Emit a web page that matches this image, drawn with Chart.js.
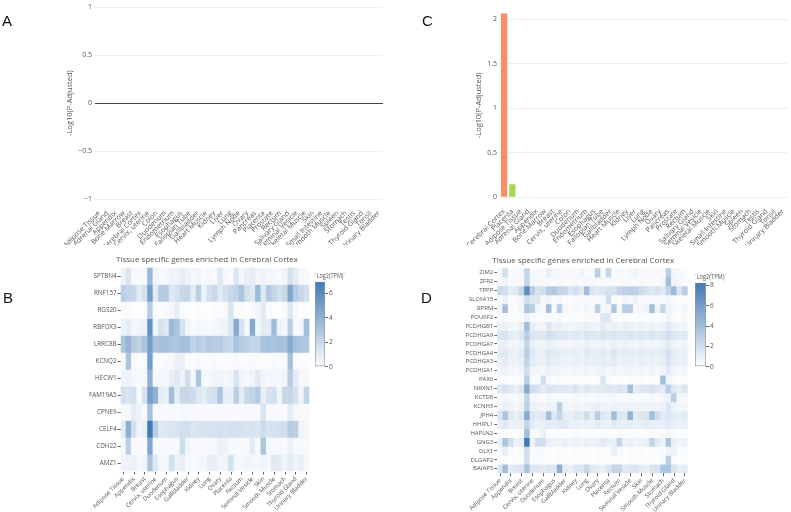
<!DOCTYPE html>
<html>
<head>
<meta charset="utf-8">
<script src="https://cdn.jsdelivr.net/npm/chart.js@4.4.0/dist/chart.umd.min.js"></script>
<style>
  body { margin: 0; background: #fff; }
  #fig { position: relative; width: 791px; height: 512px; overflow: hidden; }
  canvas { position: absolute; }
  .letra { position: absolute; font-family: 'Liberation Sans', Arial, sans-serif; font-size: 15px; line-height: 15px; color: #111; }
</style>
</head>
<body>
<div id="fig">
  <canvas id="graficoA" width="395" height="245" style="left:0;top:0"></canvas>
  <canvas id="graficoC" width="396" height="245" style="left:395px;top:0"></canvas>
  <canvas id="heatB" width="315" height="267" style="left:0;top:245px"></canvas>
  <canvas id="heatD" width="298" height="267" style="left:395px;top:245px"></canvas>
  <canvas id="barraB" width="60" height="105" style="left:305px;top:268px"></canvas>
  <canvas id="barraD" width="75" height="105" style="left:685px;top:268px"></canvas>
  <div class="letra" style="left:2px;top:13px">A</div>
  <div class="letra" style="left:422px;top:13px">C</div>
  <div class="letra" style="left:3px;top:290px">B</div>
  <div class="letra" style="left:421px;top:290px">D</div>
</div>
<script>
// tecidos em ordem alfabetica (painel A e heatmaps)
const tecidos = ['Adipose Tissue', 'Adrenal Gland', 'Appendix', 'Bone Marrow', 'Breast', 'Cerebral Cortex',
  'Cervix, uterine', 'Colon', 'Duodenum', 'Endometrium', 'Esophagus', 'Fallopian Tube', 'Gallbladder',
  'Heart Muscle', 'Kidney', 'Liver', 'Lung', 'Lymph Node', 'Ovary', 'Pancreas', 'Placenta', 'Prostate',
  'Rectum', 'Salivary Gland', 'Seminal Vesicle', 'Skeletal Muscle', 'Skin', 'Small Intestine',
  'Smooth Muscle', 'Spleen', 'Stomach', 'Testis', 'Thyroid Gland', 'Tonsil', 'Urinary Bladder'];

// painel C: ordenado por significancia
const tecidosC = ['Cerebral Cortex', 'Placenta', 'Adipose Tissue', 'Adrenal Gland', 'Appendix', 'Bone Marrow',
  'Breast', 'Cervix, uterine', 'Colon', 'Duodenum', 'Endometrium', 'Esophagus', 'Fallopian Tube',
  'Gallbladder', 'Heart Muscle', 'Kidney', 'Liver', 'Lung', 'Lymph Node', 'Ovary', 'Pancreas', 'Prostate',
  'Rectum', 'Salivary Gland', 'Seminal Vesicle', 'Skeletal Muscle', 'Skin', 'Small Intestine',
  'Smooth Muscle', 'Spleen', 'Stomach', 'Testis', 'Thyroid Gland', 'Tonsil', 'Urinary Bladder'];

const pAdjA = [0, 0, 0, 0, 0, 0, 0, 0, 0, 0, 0, 0, 0, 0, 0, 0, 0, 0, 0, 0, 0, 0, 0, 0, 0, 0, 0, 0, 0, 0, 0, 0, 0, 0, 0];
const pAdjC = [2.064, 0.145, 0, 0, 0, 0, 0, 0, 0, 0, 0, 0, 0, 0, 0, 0, 0, 0, 0, 0, 0, 0, 0, 0, 0, 0, 0, 0, 0, 0, 0, 0, 0, 0, 0];
const ticksA = [-1, -0.5, 0, 0.5, 1];
const ticksC = [0, 0.5, 1, 1.5, 2];

// heatmap B (linhas de cima para baixo)
const genesB = ['SPTBN4', 'RNF157', 'RGS20', 'RBFOX3', 'LRRC8B', 'KCNQ2', 'HECW1', 'FAM19A5', 'CPNE9', 'CELF4', 'CDH22', 'AMZ1'];
const tpmB = [
  [0.6,1.3,0.3,0.3,0.4,3.6,0.5,0.3,0.4,0.6,0.5,0.9,0.6,0.4,0.5,0.3,0.4,0.3,1.2,0.4,0.3,1.3,0.4,0.8,0.9,0.5,0.6,0.4,0.4,0.3,0.5,1.6,0.9,0.4,0.3],
  [2.5,2.2,2.0,1.0,1.6,5.0,1.1,2.6,2.6,1.2,1.5,2.0,2.1,1.0,2.5,0.7,1.6,2.0,1.1,1.6,2.0,2.2,3.0,1.6,1.2,3.6,1.2,2.7,2.1,1.6,2.0,4.6,2.6,2.0,1.6],
  [0.2,0.2,0.1,0.1,0.2,2.6,0.2,0.1,0.3,0.4,0.8,0.2,0.1,0.1,0.2,0.1,0.1,0.2,0.2,0.3,1.4,0.2,0.2,0.1,0.3,0.5,1.0,0.2,0.1,0.1,0.3,1.2,0.3,0.1,0.1],
  [0.6,0.9,0.4,0.5,0.6,5.6,0.5,1.5,1.2,3.6,3.1,1.6,0.5,0.3,0.4,0.3,0.3,0.4,0.5,0.6,1.3,4.4,1.5,0.4,4.4,0.5,1.0,0.9,3.5,0.6,0.4,2.5,0.3,0.4,3.4],
  [3.0,3.8,2.8,2.3,3.0,5.0,3.0,3.2,3.2,3.0,3.0,3.3,3.2,2.2,2.6,2.4,2.8,2.6,2.6,2.2,2.0,3.0,2.6,2.5,2.1,2.2,3.1,3.2,3.0,3.2,3.1,4.3,3.2,3.0,2.8],
  [0.3,3.0,0.3,0.2,0.3,5.0,0.2,0.2,0.3,0.3,0.7,0.7,0.2,0.2,0.3,0.2,0.2,0.3,0.2,0.2,0.2,0.3,0.2,0.2,0.3,0.2,0.2,0.2,0.3,0.2,0.3,3.2,0.3,0.2,0.2],
  [0.5,0.6,0.4,0.3,0.4,4.0,0.4,0.4,0.4,0.9,1.1,0.6,1.7,0.4,3.0,0.4,0.4,0.5,0.5,0.4,0.5,1.4,0.5,0.4,0.5,1.1,0.5,0.4,0.4,0.4,0.5,2.6,1.0,0.4,0.4],
  [1.6,1.4,1.6,0.3,1.5,5.0,4.0,1.0,0.8,3.4,1.0,2.0,2.0,1.8,1.2,1.0,1.5,1.6,3.0,0.8,0.8,2.5,1.0,2.0,2.2,2.6,0.8,1.5,1.6,0.5,2.0,2.1,1.5,0.5,2.2],
  [0.3,0.4,0.9,0.6,0.3,3.2,0.3,0.3,0.3,0.3,0.3,0.4,0.3,0.3,0.3,0.3,0.3,0.3,0.3,0.3,0.3,0.3,0.3,0.3,0.3,0.3,1.4,0.3,0.3,0.3,0.3,1.0,0.4,0.3,0.3],
  [1.0,4.0,1.6,0.5,0.8,6.9,2.5,1.2,1.3,1.3,1.4,1.6,1.7,1.3,1.4,1.4,1.5,1.5,1.6,1.5,1.6,1.6,1.5,1.4,1.5,1.3,1.8,1.4,1.5,1.6,1.7,2.6,2.5,0.5,0.4],
  [0.3,2.4,0.3,0.3,0.3,4.5,0.3,0.3,0.3,0.3,0.3,1.8,0.5,0.3,0.3,0.3,0.3,0.3,0.7,0.6,0.3,0.3,0.3,0.3,1.0,0.3,3.0,0.4,0.3,0.3,0.3,0.7,0.3,0.3,0.3],
  [0.5,0.6,0.7,0.4,0.5,3.0,1.2,0.4,0.4,1.6,0.7,0.8,0.4,0.3,0.4,0.4,0.8,0.8,0.5,0.5,1.6,0.4,0.4,0.5,0.4,0.4,0.5,0.4,1.1,1.0,0.5,1.0,0.6,0.8,0.4]
];
const maxB = 6.94;
const ticksBarraB = [0, 2, 4, 6];

// heatmap D
const genesD = ['ZIM2', 'ZFR2', 'TPPP', 'SLC6A15', 'RPRM', 'POU6F2', 'PCDHGB1', 'PCDHGA9', 'PCDHGA7', 'PCDHGA4',
  'PCDHGA3', 'PCDHGA1', 'PAX6', 'NRXN1', 'KCTD8', 'KCNH3', 'JPH4', 'HHIPL1', 'HAPLN2', 'GNG3', 'DLX1', 'DLGAP2', 'BAIAP3'];
const tpmD = [
  [0.4,2.0,0.3,0.3,0.5,2.6,0.4,0.4,0.3,1.0,0.5,0.4,0.3,0.4,0.3,0.6,0.3,0.4,3.0,0.3,2.6,0.3,0.4,0.3,0.5,0.7,0.3,0.4,0.3,0.4,0.3,3.0,0.6,0.4,0.3],
  [0.5,0.8,0.4,0.4,0.4,2.6,0.5,0.4,0.4,0.4,0.3,0.4,0.3,0.3,0.4,0.3,0.5,0.4,0.3,0.4,0.3,0.4,0.3,0.4,0.4,0.3,0.4,0.3,0.4,0.3,0.5,4.0,0.6,0.5,0.3],
  [2.2,2.0,1.2,1.3,2.6,7.0,3.0,1.8,2.0,3.2,3.4,2.5,2.4,1.5,2.0,1.4,4.0,1.6,1.3,1.5,1.8,1.8,2.6,2.8,3.0,2.7,2.2,1.8,1.5,1.8,1.4,2.6,4.2,1.5,3.0],
  [0.3,0.8,0.2,0.3,0.6,2.0,1.5,1.4,0.4,0.6,0.3,0.5,0.3,0.2,0.3,0.3,0.4,0.3,0.3,0.5,2.0,0.3,0.3,0.5,0.4,0.8,0.3,0.3,0.4,0.3,0.3,0.6,0.3,0.2,0.3],
  [0.5,4.0,0.3,0.3,0.6,3.6,3.0,0.6,0.4,4.0,0.4,3.0,0.4,0.3,0.5,0.3,0.6,0.4,3.0,0.4,0.5,3.5,0.4,3.0,3.0,0.4,0.5,0.6,4.0,0.6,2.6,0.7,0.5,0.3,0.6],
  [0.2,0.3,0.2,0.2,0.3,0.8,0.3,0.2,0.3,0.4,0.3,0.4,0.2,0.3,0.2,0.2,0.3,0.3,0.3,1.5,1.5,0.3,0.2,0.3,0.3,0.2,0.3,0.2,0.3,0.2,0.3,0.6,0.3,0.2,0.3],
  [0.8,1.0,0.6,0.5,0.9,4.0,1.0,0.7,0.6,1.5,0.8,0.9,0.7,0.6,0.7,0.8,1.0,0.8,0.7,1.2,0.8,0.9,0.7,1.0,0.8,0.7,0.9,0.6,0.8,0.7,0.8,1.4,0.8,0.6,0.7],
  [1.6,1.8,1.2,1.0,1.5,3.0,1.6,1.4,1.5,2.0,1.8,1.5,1.4,1.2,1.5,1.2,1.6,1.4,1.3,1.6,1.4,1.6,1.5,1.4,1.6,1.3,1.5,1.4,1.6,1.3,1.5,2.0,1.5,1.2,1.4],
  [0.8,1.0,0.6,0.5,0.8,2.6,0.9,0.7,0.6,1.0,0.8,0.7,0.6,0.5,0.7,0.6,0.9,0.6,0.7,0.8,0.6,0.9,0.6,0.8,0.7,0.6,0.8,0.6,0.7,0.6,0.8,1.2,0.7,0.5,0.6],
  [1.2,1.4,0.9,0.8,1.2,3.0,1.4,1.0,1.0,1.5,1.2,1.1,1.0,0.9,1.1,0.9,1.3,1.0,1.1,1.3,1.0,1.6,1.0,1.2,1.1,1.0,1.2,1.0,1.1,1.0,1.2,1.8,1.1,0.9,1.0],
  [1.0,1.2,0.8,0.7,1.0,2.6,1.2,0.9,0.8,1.3,1.0,0.9,0.8,0.8,0.9,0.8,1.1,0.9,0.9,1.1,0.9,1.2,0.8,1.0,0.9,0.8,1.0,0.8,0.9,0.8,1.0,1.6,1.0,0.8,0.9],
  [0.6,0.7,0.5,0.4,0.6,2.0,0.7,0.5,0.5,0.8,0.6,0.6,0.5,0.4,0.6,0.5,0.7,0.5,0.6,0.7,0.5,0.7,0.5,0.6,0.6,0.5,0.6,0.5,0.6,0.5,0.6,1.2,0.6,0.4,0.5],
  [0.2,0.4,0.2,0.2,0.3,3.0,0.3,0.3,2.0,0.3,0.2,0.3,0.2,0.3,0.2,0.2,0.3,0.2,0.3,1.5,0.3,0.2,0.3,0.2,0.3,0.2,0.3,0.2,0.3,0.2,4.0,0.6,0.3,0.2,0.2],
  [1.4,1.8,1.3,1.0,1.5,5.2,2.0,1.8,1.2,1.6,1.5,1.3,1.4,1.2,1.6,1.0,1.4,1.1,1.3,1.2,1.5,1.3,1.6,1.4,4.0,1.2,1.4,1.5,1.8,1.4,1.2,3.0,1.5,1.0,1.5],
  [0.4,0.5,0.3,0.3,0.5,2.6,0.4,0.4,0.3,0.5,0.3,0.4,0.3,0.3,0.4,0.3,0.4,0.3,0.4,0.3,0.4,0.5,0.3,0.4,0.4,0.3,0.4,0.3,0.4,0.3,0.5,0.8,3.0,0.5,0.4],
  [0.6,1.0,0.7,0.5,0.8,3.0,0.8,0.7,0.6,0.8,0.7,3.0,0.7,0.5,0.7,0.5,0.6,0.8,1.0,0.7,0.6,0.8,0.6,0.7,0.8,0.6,0.7,0.6,0.7,0.6,0.8,1.5,0.8,0.5,0.6],
  [1.5,3.6,1.4,1.0,1.5,5.2,1.6,1.2,1.4,4.0,1.4,2.6,1.2,1.0,1.4,1.2,2.0,1.2,3.0,1.4,1.2,4.0,1.5,1.3,4.6,1.2,1.4,1.6,4.0,2.0,1.2,1.5,1.2,1.0,1.3],
  [1.0,1.4,0.8,0.8,1.0,2.6,1.2,0.9,1.0,1.2,1.1,1.3,1.4,0.9,1.0,0.8,1.0,0.9,1.2,1.0,0.8,1.3,1.0,0.9,1.1,0.9,1.0,1.2,1.0,0.9,1.0,1.2,0.9,0.8,0.9],
  [0.2,0.3,0.2,0.2,0.3,4.0,0.3,0.3,1.0,0.3,0.2,0.3,0.2,0.2,0.3,0.2,0.2,0.3,0.2,0.2,0.3,0.2,0.3,0.2,0.2,0.3,0.2,0.2,0.3,0.2,0.3,0.5,0.3,0.2,0.2],
  [0.8,3.6,2.0,0.8,1.0,8.2,0.8,2.0,2.0,0.9,0.8,0.7,1.0,0.7,0.8,0.6,0.9,0.7,0.9,1.2,0.9,1.0,2.6,0.8,1.0,0.7,0.8,1.0,2.6,1.2,0.8,3.6,1.0,0.7,0.8],
  [0.3,1.0,0.3,0.2,0.3,2.0,0.3,0.3,0.3,0.3,0.2,0.3,0.2,0.2,0.3,0.2,0.3,0.2,0.3,0.2,0.3,1.0,0.3,0.2,0.3,0.2,0.3,0.2,0.3,0.2,0.3,0.6,0.8,0.2,0.2],
  [0.2,0.3,0.2,0.2,0.2,2.0,0.3,0.2,0.2,0.2,0.2,0.3,0.2,0.2,0.2,0.2,0.2,0.2,0.3,0.2,0.2,0.2,0.2,0.2,0.3,0.2,0.2,0.2,0.2,0.2,0.3,3.0,0.3,0.2,0.2],
  [1.5,4.0,1.2,1.4,1.6,3.6,1.5,1.4,1.2,1.5,1.4,5.0,1.2,1.0,1.4,1.5,2.5,1.4,1.2,1.0,1.5,2.5,2.6,1.2,1.5,1.6,1.2,1.0,1.5,1.8,3.5,3.6,1.6,1.0,1.2]
];
const maxD = 8.28;
const ticksBarraD = [0, 2, 4, 6, 8];

Chart.defaults.font.family = "'Open Sans', sans-serif";
Chart.defaults.color = '#444';
Chart.defaults.animation = false;
Chart.defaults.plugins.legend.display = false;
Chart.defaults.plugins.tooltip.enabled = false;

const AZUL = [63, 120, 180];

function corTpm(v, max) {
  const t = Math.max(0, Math.min(1, v / max));
  const r = Math.round(255 + (AZUL[0] - 255) * t);
  const g = Math.round(255 + (AZUL[1] - 255) * t);
  const b = Math.round(255 + (AZUL[2] - 255) * t);
  return `rgb(${r},${g},${b})`;
}

function menos(v) {
  return v < 0 ? '\u2212' + Math.abs(v) : String(v);
}

// grafico de barras de -log10(p)
function graficoBarras(id, labels, valores, cores, yMin, yMax, yTicks, opt) {
  return new Chart(document.getElementById(id), {
    type: 'bar',
    data: {
      labels: labels,
      datasets: [{ data: valores, backgroundColor: cores, categoryPercentage: 0.8, barPercentage: 0.95 }]
    },
    options: {
      responsive: false,
      layout: { padding: opt.padding },
      scales: {
        x: {
          grid: { display: false },
          border: { display: false },
          ticks: { autoSkip: false, minRotation: 45, maxRotation: 45, padding: 2, font: { size: 7 }, color: '#555' },
          afterFit: (s) => { s.height = opt.alturaX; }
        },
        y: {
          min: yMin, max: yMax,
          afterBuildTicks: (s) => { s.ticks = yTicks.map(v => ({ value: v })); },
          grid: { color: opt.corGrade, drawTicks: false, lineWidth: 1 },
          border: { display: false },
          ticks: { padding: 3, font: { size: 7 }, color: '#555', callback: (v) => menos(v) },
          title: { display: true, text: '-Log10(P-Adjusted)', color: '#555', font: { size: 7.5 }, padding: { top: opt.tituloY, bottom: 0 } },
          afterFit: (s) => { s.width = opt.larguraY; }
        }
      }
    }
  });
}

graficoBarras('graficoA', tecidos, pAdjA, '#fc8d62', -1, 1, ticksA, {
  padding: { top: 4, right: 12, left: 0, bottom: 0 },
  alturaX: 46, larguraY: 95, tituloY: 65.5,
  corGrade: (c) => (c.tick && c.tick.value === 0) ? '#444' : '#eee'
});

graficoBarras('graficoC', tecidosC, pAdjC,
  tecidosC.map((t, i) => i === 0 ? '#fc8d62' : (i === 1 ? '#a6d854' : '#66c2a5')),
  0, 2.064, ticksC, {
  padding: { top: 13.3, right: 3, left: 0, bottom: 0 },
  alturaX: 47.7, larguraY: 105, tituloY: 79.5,
  corGrade: '#eee'
});

// titulo do heatmap desenhado numa posicao fixa
const tituloHeatmap = {
  id: 'tituloHeatmap',
  afterDraw(chart, args, o) {
    const c = chart.ctx;
    c.save();
    c.font = "8px 'Open Sans', sans-serif";
    c.fillStyle = '#555';
    c.textAlign = 'center';
    c.textBaseline = 'middle';
    c.fillText(o.text, o.x, o.y);
    c.restore();
  }
};

function heatmap(id, genes, tpm, max, opt) {
  const datasets = genes.map((g, i) => ({
    label: g,
    data: tecidos.map(() => 1),
    backgroundColor: tpm[i].map(v => corTpm(v, max)),
    borderWidth: 0,
    categoryPercentage: 1,
    barPercentage: 1,
    stack: 'hm'
  }));
  return new Chart(document.getElementById(id), {
    type: 'bar',
    data: { labels: tecidos, datasets: datasets },
    plugins: [tituloHeatmap],
    options: {
      responsive: false,
      layout: { padding: opt.padding },
      plugins: {
        tituloHeatmap: { text: 'Tissue specific genes enriched in Cerebral Cortex', x: opt.tituloX, y: opt.tituloY }
      },
      scales: {
        x: {
          stacked: true,
          grid: { display: true, drawOnChartArea: false, drawTicks: true, tickLength: 3, offset: false, color: '#666' },
          border: { display: false },
          ticks: {
            autoSkip: false, minRotation: 45, maxRotation: 45, padding: 1, font: { size: 6 }, color: '#555',
            callback: (v, i) => (i % 2 === 0 ? tecidos[i] : null)
          },
          afterFit: (s) => { s.height = opt.alturaX; }
        },
        y: {
          stacked: true,
          reverse: true,
          min: 0, max: genes.length,
          afterBuildTicks: (s) => { s.ticks = genes.map((g, i) => ({ value: i + 0.5 })); },
          grid: { display: true, drawOnChartArea: false, drawTicks: true, tickLength: 3, color: '#666' },
          border: { display: false },
          ticks: { autoSkip: false, padding: 1, font: { size: opt.fonteY }, color: '#555', callback: (v) => genes[Math.floor(v)] },
          afterFit: (s) => { s.width = opt.larguraY; }
        }
      }
    }
  });
}

heatmap('heatB', genesB, tpmB, maxB, {
  padding: { top: 22.5, right: 5.6, left: 0, bottom: 0 },
  alturaX: 40.5, larguraY: 120.6, fonteY: 6.3, tituloX: 207, tituloY: 15
});
heatmap('heatD', genesD, tpmD, maxD, {
  padding: { top: 23.2, right: 5.3, left: 0, bottom: 0 },
  alturaX: 38.8, larguraY: 102.3, fonteY: 6, tituloX: 188.3, tituloY: 16
});

// barra de cores como uma barra flutuante com gradiente
function barraCores(id, max, ticks, opt) {
  return new Chart(document.getElementById(id), {
    type: 'bar',
    data: {
      labels: [''],
      datasets: [{
        data: [[0, max]],
        backgroundColor: (ctx) => {
          const area = ctx.chart.chartArea;
          if (!area) return null;
          const grad = ctx.chart.ctx.createLinearGradient(0, area.bottom, 0, area.top);
          grad.addColorStop(0, corTpm(0, max));
          grad.addColorStop(1, corTpm(max, max));
          return grad;
        },
        borderColor: '#999',
        borderWidth: 1,
        borderSkipped: false,
        categoryPercentage: 1,
        barPercentage: 1
      }]
    },
    options: {
      responsive: false,
      layout: { padding: opt.padding },
      plugins: {
        title: {
          display: true, text: '`Log2(TPM)`', align: 'start', color: '#555',
          font: { size: 6.5, weight: 'normal' }, padding: { top: opt.tituloTopo, bottom: 1.9 }
        }
      },
      scales: {
        x: { display: false },
        y: {
          position: 'right',
          min: 0, max: max,
          afterBuildTicks: (s) => { s.ticks = ticks.map(v => ({ value: v })); },
          grid: { drawOnChartArea: false, drawTicks: true, tickLength: 3, color: '#666' },
          border: { display: false },
          ticks: { padding: 1, font: { size: 6.5 }, color: '#555' },
          afterFit: (s) => { s.width = 20; }
        }
      }
    }
  });
}

barraCores('barraB', maxB, ticksBarraB, { padding: { top: 0, right: 20, left: 10, bottom: 6.3 }, tituloTopo: 4 });
barraCores('barraD', maxD, ticksBarraD, { padding: { top: 0, right: 34, left: 10, bottom: 6.3 }, tituloTopo: 5 });
</script>
</body>
</html>
